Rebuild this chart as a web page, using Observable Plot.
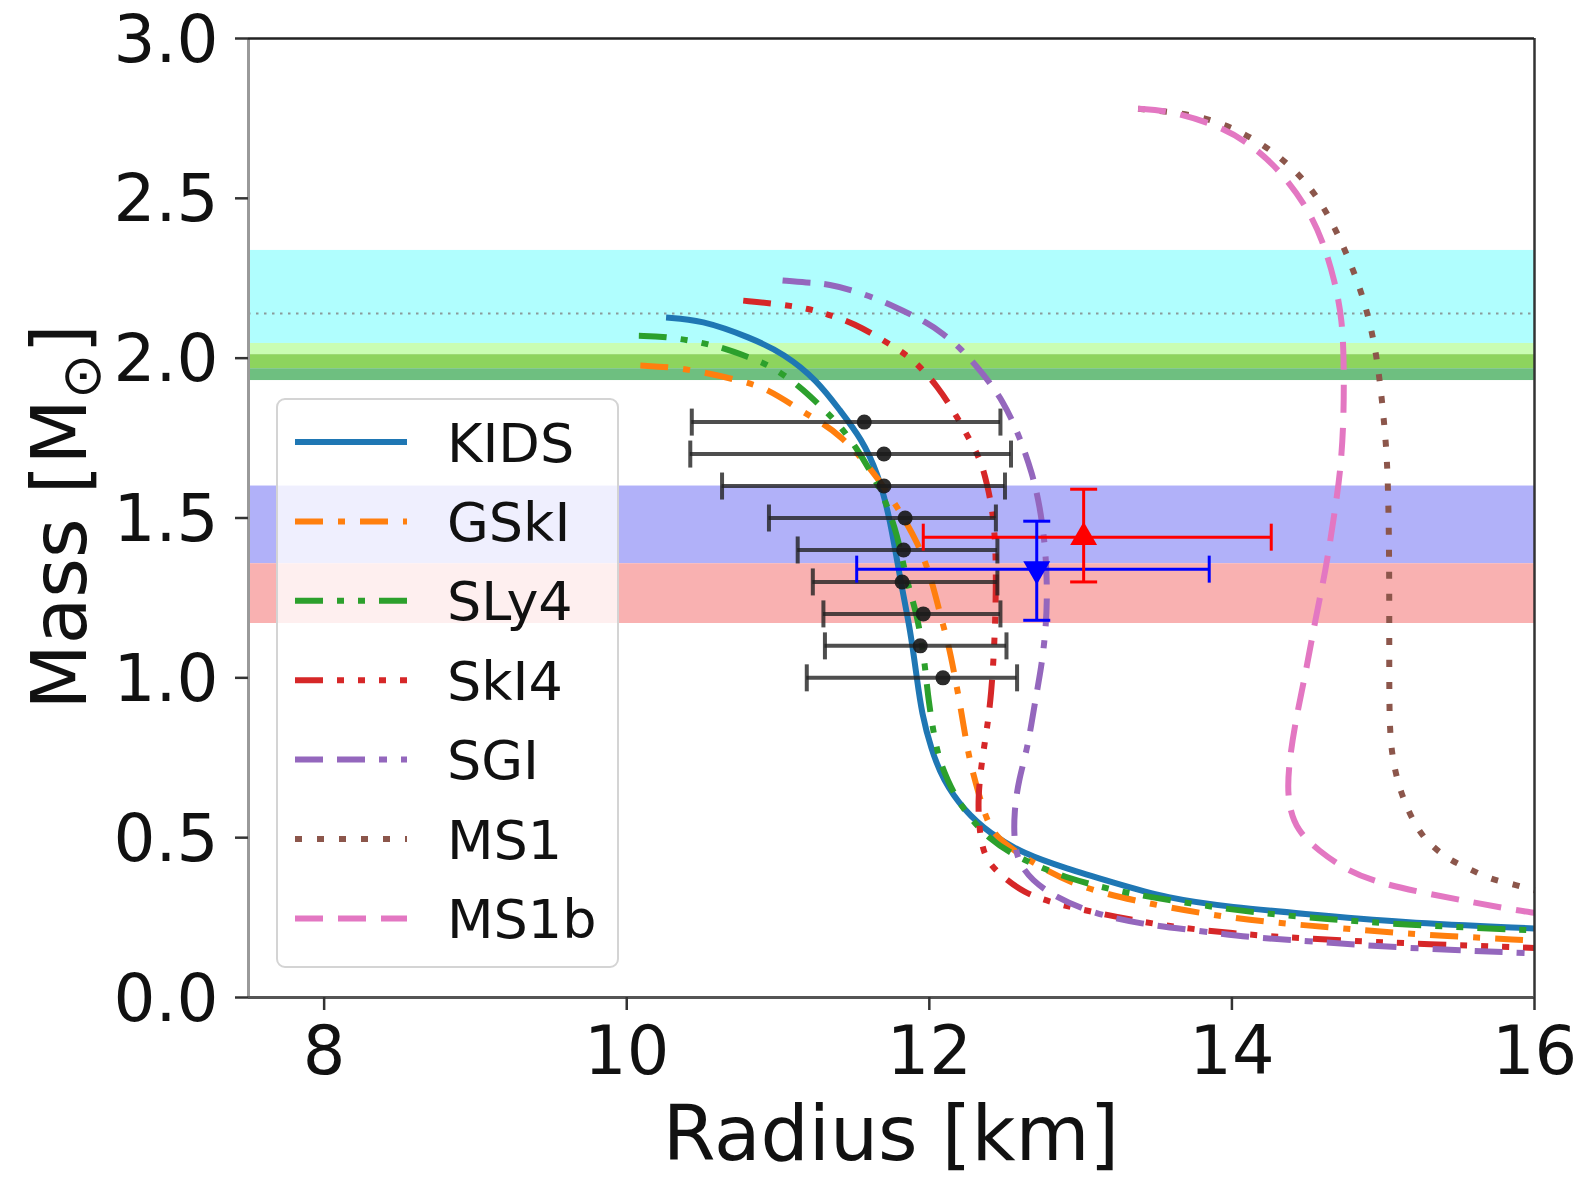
<!DOCTYPE html>
<html><head><meta charset="utf-8">
<script src="https://cdn.jsdelivr.net/npm/d3@7"></script>
<script src="https://cdn.jsdelivr.net/npm/@observablehq/plot@0.6"></script>
<style>
html,body{margin:0;padding:0;background:#fff;}
#wrap{position:relative;width:1586px;height:1178px;overflow:hidden;}
#wrap svg{display:block;}
</style></head><body><div id="wrap"></div>
<script>
// ---- data ----
const xDomain = [7.5, 16];
const yDomain = [0, 3];
const xTicks = [8, 10, 12, 14, 16];
const yTicks = [0, 0.5, 1.0, 1.5, 2.0, 2.5, 3.0];

const seriesNames = ["KIDS", "GSkI", "SLy4", "SkI4", "SGI", "MS1", "MS1b"];

const kidsR = [10.26,10.49,10.82,11.04,11.26,11.41,11.55,11.66,11.74,11.81,11.875,11.92,11.95,12.01,12.09,12.23,12.40,12.62,12.91,13.2,13.57,14.01,14.45,15.11,16.0];
const kidsM = [2.127,2.12,2.064,2.014,1.93,1.836,1.75,1.64,1.50,1.30,1.15,0.99,0.89,0.78,0.68,0.585,0.513,0.45,0.403,0.362,0.31,0.282,0.263,0.235,0.216];

const gskiR = [10.09,10.38,10.75,10.93,11.15,11.30,11.41,11.59,11.77,11.93,12.02,12.07,12.13,12.17,12.21,12.26,12.33,12.40,12.50,12.63,12.95,13.35,13.79,14.24,14.67,15.11,16.0];
const gskiM = [1.977,1.97,1.93,1.905,1.836,1.795,1.758,1.67,1.55,1.42,1.30,1.20,1.10,1.00,0.90,0.75,0.63,0.525,0.48,0.437,0.35,0.303,0.263,0.235,0.219,0.20,0.178];

const sly4R = [10.08,10.27,10.6,10.82,10.95,11.15,11.28,11.39,11.52,11.63,11.70,11.79,11.85,11.92,11.97,11.99,12.05,12.12,12.21,12.40,12.62,12.91,13.31,13.73,14.12,14.67,15.11,16.0];
const sly4M = [2.07,2.068,2.04,2.0,1.977,1.91,1.85,1.80,1.72,1.63,1.565,1.45,1.30,1.20,1.05,0.94,0.76,0.68,0.595,0.49,0.43,0.372,0.325,0.294,0.266,0.244,0.228,0.21];

const ski4R = [10.77,10.99,11.21,11.35,11.5,11.7,11.86,11.95,12.05,12.16,12.27,12.34,12.38,12.42,12.44,12.44,12.43,12.41,12.38,12.35,12.32,12.33,12.35,12.39,12.50,12.62,12.80,13.13,13.53,14.01,14.45,15.11,16.0];
const ski4M = [2.18,2.17,2.155,2.133,2.11,2.055,2.008,1.967,1.914,1.836,1.742,1.68,1.61,1.52,1.40,1.25,1.10,0.95,0.835,0.75,0.626,0.53,0.47,0.42,0.372,0.33,0.297,0.262,0.225,0.20,0.185,0.17,0.155];

const sgiR = [11.03,11.19,11.33,11.55,11.79,11.99,12.09,12.21,12.34,12.49,12.60,12.68,12.73,12.77,12.78,12.77,12.74,12.70,12.65,12.59,12.56,12.56,12.60,12.76,13.08,13.40,13.75,14.12,14.45,15.11,16.0];
const sgiM = [2.243,2.236,2.233,2.205,2.158,2.11,2.077,2.03,1.96,1.867,1.75,1.64,1.54,1.40,1.26,1.15,1.03,0.93,0.78,0.68,0.58,0.48,0.407,0.33,0.262,0.23,0.21,0.188,0.178,0.155,0.138];

const ms1R = [13.38,13.48,13.79,14.06,14.29,14.50,14.65,14.77,14.87,14.94,14.98,15.01,15.03,15.04,15.04,15.04,15.05,15.11,15.23,15.33,15.44,15.58,15.71,15.84,16.0];
const ms1M = [2.78,2.775,2.76,2.71,2.643,2.55,2.44,2.315,2.19,2.055,1.924,1.78,1.655,1.40,1.10,0.90,0.77,0.64,0.52,0.47,0.43,0.40,0.37,0.357,0.335];

const ms1bR = [13.38,13.57,13.86,14.10,14.32,14.50,14.60,14.68,14.73,14.74,14.74,14.72,14.67,14.62,14.55,14.49,14.42,14.37,14.37,14.43,14.57,14.76,14.98,15.29,15.60,15.89,16.0];
const ms1bM = [2.78,2.775,2.737,2.68,2.587,2.47,2.368,2.243,2.118,1.983,1.82,1.65,1.49,1.336,1.18,1.02,0.866,0.71,0.607,0.522,0.46,0.397,0.357,0.325,0.297,0.272,0.265];

// shaded mass bands (lower, upper)
const bandLo = [2.046, 2.011, 1.967, 1.930, 1.357, 1.17];
const bandHi = [2.337, 2.046, 2.011, 1.967, 1.60, 1.357];
const refMass = [2.14];

// radius constraints at fixed masses (black error bars)
const ebM  = [1.80, 1.70, 1.60, 1.50, 1.40, 1.30, 1.20, 1.10, 1.00];
const ebR  = [11.57, 11.70, 11.70, 11.84, 11.83, 11.82, 11.96, 11.94, 12.09];
const ebLo = [10.43, 10.42, 10.63, 10.94, 11.13, 11.23, 11.30, 11.31, 11.19];
const ebHi = [12.47, 12.54, 12.50, 12.44, 12.45, 12.45, 12.47, 12.51, 12.58];

// NICER PSR J0030+0451 (Riley, Miller)
const nicerR = [13.02, 12.71];
const nicerRminus = [1.06, 1.19];
const nicerRplus = [1.24, 1.14];
const nicerM = [1.44, 1.34];
const nicerMminus = [0.14, 0.16];
const nicerMplus = [0.15, 0.15];

// ---- styles ----
const seriesColor = ["#1f77b4", "#ff7f0e", "#2ca02c", "#d62728", "#9467bd", "#8c564b", "#e377c2"];
const seriesDash = [null, "28,15,7,15", "28,14,7,14,7,14", "28,14,7,14,7,14,7,14", "28,14,28,14,8,14", "7,15", "28,15"];
const bandColor = ["#b0fefe", "#c9fdb3", "#8dd45e", "#6ebf80", "#b1b1f9", "#f9b1b1"];
const nicerColor = ["#ff0000", "#0000ff"];

const seriesR = [kidsR, gskiR, sly4R, ski4R, sgiR, ms1R, ms1bR];
const seriesM = [kidsM, gskiM, sly4M, ski4M, sgiM, ms1M, ms1bM];

const vbar = {draw(ctx, size){ const h = Math.sqrt(size/Math.PI); ctx.moveTo(0,-h); ctx.lineTo(0,h); }};
const hbar = {draw(ctx, size){ const h = Math.sqrt(size/Math.PI); ctx.moveTo(-h,0); ctx.lineTo(h,0); }};

const marks = [];
// bands
const bands = bandLo.map((lo,i)=>({lo, hi: bandHi[i], c: bandColor[i]}));
marks.push(Plot.rect(bands, {x1: () => xDomain[0], x2: () => xDomain[1], y1: "lo", y2: "hi", fill: "c"}));
marks.push(Plot.ruleY(refMass, {stroke: "#8a9a9a", strokeWidth: 2, strokeDasharray: "2.5,5.5"}));

// curves
seriesNames.forEach((name, i) => {
  const rows = seriesR[i].map((r, j) => ({r, m: seriesM[i][j]}));
  marks.push(Plot.line(rows, {x: "r", y: "m", curve: "basis", stroke: seriesColor[i],
    strokeWidth: 6, strokeDasharray: seriesDash[i] || undefined, strokeLinecap: "butt"}));
});

// black error bars
const eb = ebM.map((m,i)=>({m, r: ebR[i], lo: ebLo[i], hi: ebHi[i]}));
const ebStyle = {stroke: "#222", strokeWidth: 4, strokeOpacity: 0.8};
marks.push(Plot.ruleY(eb, {y: "m", x1: "lo", x2: "hi", ...ebStyle}));
marks.push(Plot.dot(eb, {x: "lo", y: "m", symbol: vbar, r: 13.5, fill: "none", ...ebStyle}));
marks.push(Plot.dot(eb, {x: "hi", y: "m", symbol: vbar, r: 13.5, fill: "none", ...ebStyle}));
marks.push(Plot.dot(eb, {x: "r", y: "m", r: 7.5, fill: "#1a1a1a", fillOpacity: 0.92}));

// NICER points
const nicer = nicerR.map((r,i)=>({r, m: nicerM[i], rl: r - nicerRminus[i], rh: r + nicerRplus[i],
  ml: nicerM[i] - nicerMminus[i], mh: nicerM[i] + nicerMplus[i], c: nicerColor[i], rot: i === 0 ? 0 : 180}));
marks.push(Plot.ruleY(nicer, {y: "m", x1: "rl", x2: "rh", stroke: "c", strokeWidth: 3}));
marks.push(Plot.ruleX(nicer, {x: "r", y1: "ml", y2: "mh", stroke: "c", strokeWidth: 3}));
marks.push(Plot.dot(nicer, {x: "rl", y: "m", symbol: vbar, r: 13.5, fill: "none", stroke: "c", strokeWidth: 3}));
marks.push(Plot.dot(nicer, {x: "rh", y: "m", symbol: vbar, r: 13.5, fill: "none", stroke: "c", strokeWidth: 3}));
marks.push(Plot.dot(nicer, {x: "r", y: "ml", symbol: hbar, r: 13.5, fill: "none", stroke: "c", strokeWidth: 3}));
marks.push(Plot.dot(nicer, {x: "r", y: "mh", symbol: hbar, r: 13.5, fill: "none", stroke: "c", strokeWidth: 3}));
marks.push(Plot.dot(nicer, {x: "r", y: "m", symbol: "triangle", r: 10, fill: "c", stroke: "none", rotate: "rot"}));

// spines
marks.push(Plot.ruleX([xDomain[0]], {stroke: "#9a9a9a", strokeWidth: 3}));
marks.push(Plot.ruleX([xDomain[1]], {stroke: "#333", strokeWidth: 2.5}));
marks.push(Plot.ruleY([yDomain[0]], {stroke: "#555", strokeWidth: 3}));
marks.push(Plot.ruleY([yDomain[1]], {stroke: "#222", strokeWidth: 2.5}));

// axes
marks.push(Plot.axisX({ticks: xTicks, tickSize: 13, tickPadding: 16, label: null, strokeWidth: 2.5, stroke: "#333", fill: "#111"}));
// y tick marks
marks.push(Plot.axisY({ticks: yTicks, tickSize: 13, label: null, tickFormat: () => "", strokeWidth: 2.5, stroke: "#333"}));
// y tick labels (nudged 2px down so the top label stays inside the page)
marks.push(Plot.axisY({ticks: yTicks, tickSize: 0, tickPadding: 30, label: null, tickFormat: d3.format(".1f"), fill: "#111", fontSize: 66, dy: 2}));

const svg = Plot.plot({
  width: 1586, height: 1178,
  marginLeft: 248, marginRight: 52, marginTop: 38, marginBottom: 181,
  x: {domain: xDomain},
  y: {domain: yDomain},
  color: {type: "identity"},
  style: {fontFamily: "DejaVu Sans", fontSize: "67px", background: "#fff", overflow: "visible"},
  marks
});
const wrap = document.getElementById("wrap");
wrap.appendChild(svg);

// axis titles
const s = d3.select(svg);
s.append("text").attr("x", 891).attr("y", 1160).attr("text-anchor", "middle")
  .attr("font-size", 76).attr("fill", "#111").text("Radius [km]");
const yl = s.append("text").attr("transform", "translate(86,517) rotate(-90)").attr("text-anchor", "middle")
  .attr("font-size", 76).attr("fill", "#111");
yl.append("tspan").text("Mass [M");
yl.append("tspan").attr("font-size", 54).attr("dy", 14).text("⊙");
yl.append("tspan").attr("dy", -14).text("]");

// legend
const lg = d3.select(wrap).append("div")
  .style("position", "absolute").style("left", "276px").style("top", "398px")
  .style("width", "343px").style("height", "570px").style("box-sizing", "border-box")
  .style("background", "rgba(255,255,255,0.8)").style("border", "2px solid #d4d4d4")
  .style("border-radius", "9px");
const lsvg = lg.append("svg").attr("width", 343).attr("height", 570)
  .style("position", "absolute").style("left", "-2px").style("top", "-2px");
seriesNames.forEach((name, i) => {
  const cy = 44 + i * 79.4;
  lsvg.append("line").attr("x1", 19).attr("x2", 131).attr("y1", cy).attr("y2", cy)
    .attr("stroke", seriesColor[i]).attr("stroke-width", 6)
    .attr("stroke-dasharray", seriesDash[i] || null);
  lsvg.append("text").attr("x", 171).attr("y", cy + 19.5).attr("font-family", "DejaVu Sans")
    .attr("font-size", 54).attr("fill", "#111").text(name);
});
</script></body></html>
